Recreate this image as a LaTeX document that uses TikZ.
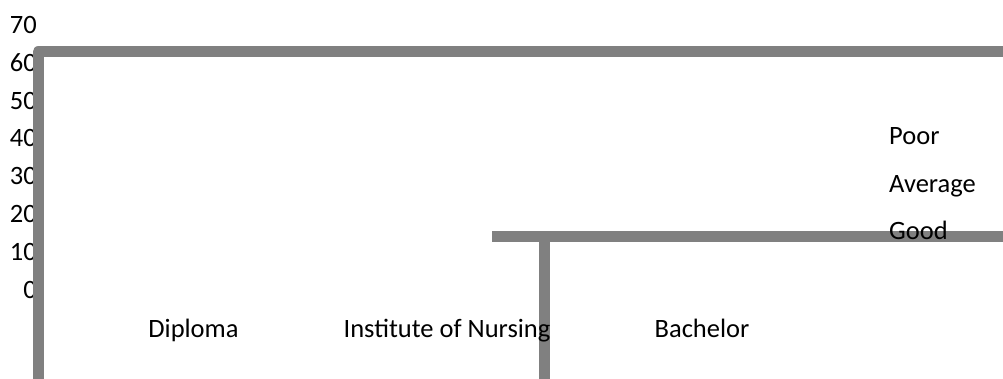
\documentclass[tikz,border=0pt]{standalone}
\usepackage{fontspec}
\setmainfont{Carlito}
\usepackage{tikz}
\usetikzlibrary{positioning}

\begin{document}
\begin{tikzpicture}[
  x = 1pt,
  y = -1pt,
  lbl/.style = {
    inner sep = 0pt,
    font = \fontsize{26.5}{31}\selectfont,
  },
  bar/.style = {
    draw = barcol,
    line width = 11pt,
    line join = round,
  },
]
  \definecolor{barcol}{RGB}{128,128,128}
  \useasboundingbox (0,0) rectangle (1003,379);

  % axis values
  \foreach \v [count=\i from 0] in {70,60,50,40,30,20,10,0}
    \node[lbl, anchor=base east] (tick\v) at (37,33.5+37.8*\i) {\v};

  % frame and inner corner
  \coordinate (frameA) at (38,390);
  \coordinate (frameB) at (38,52);
  \coordinate (frameC) at (1015,52);
  \draw[bar] (frameA) -- (frameB) -- (frameC);

  \coordinate (stepA) at (492,237);
  \coordinate (stepB) at (1015,237);
  \coordinate (stepC) at (544,237);
  \coordinate (stepD) at (544,390);
  \draw[bar] (stepA) -- (stepB);
  \draw[bar] (stepC) -- (stepD);

  % categories
  \node[lbl, anchor=base] (diploma) at (193.5,337) {Diploma};
  \node[lbl, anchor=base] (institute) at (447,337) {Institute of Nursing};
  \node[lbl, anchor=base] (bachelor) at (702,337) {Bachelor};

  % legend
  \node[lbl, anchor=base west] (poor) at (889,145) {Poor};
  \node[lbl, anchor=base west] (average) at (889,193) {Average};
  \node[lbl, anchor=base west] (good) at (889,240) {Good};

\end{tikzpicture}
\end{document}
